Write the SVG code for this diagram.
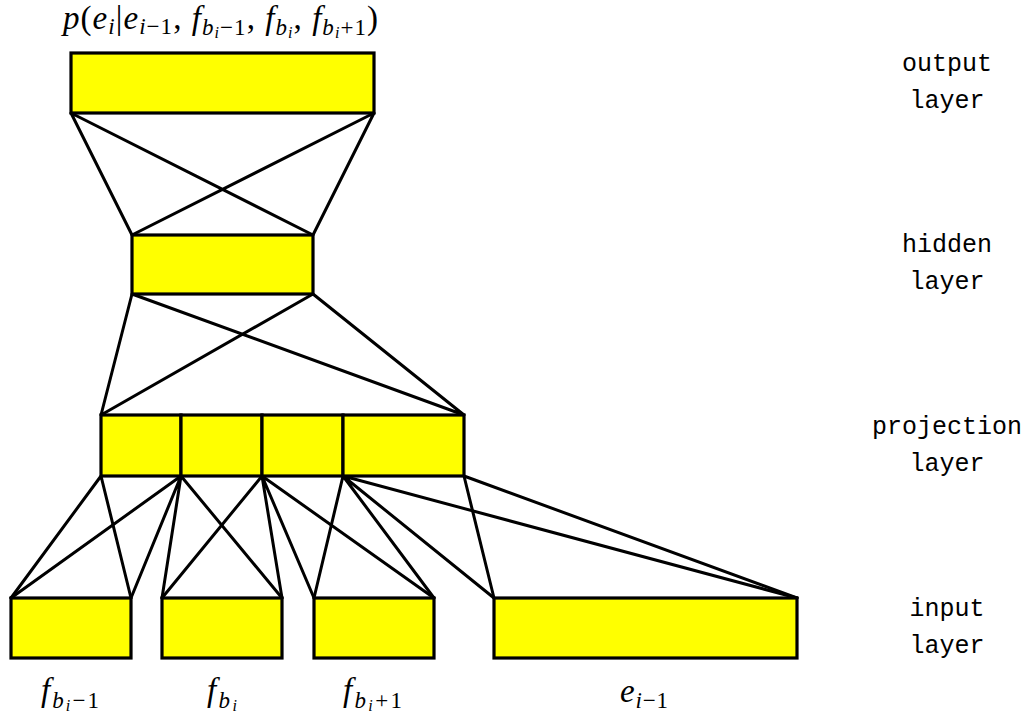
<svg xmlns="http://www.w3.org/2000/svg" width="1029" height="717" viewBox="0 0 1029 717">
<style>
.box{fill:#ffff00;stroke:#000;stroke-width:3.2}
.ln{stroke:#000;stroke-width:3;fill:none;stroke-linecap:round}
.lbl{font-family:"Liberation Mono","DejaVu Sans Mono",monospace;font-size:25px;fill:#000;text-anchor:middle}
.m{font-family:"Liberation Serif","Times New Roman",serif;font-size:33px;fill:#000}
.it{font-style:italic}
.s{font-size:23px}
.ss{font-size:16px}
</style>
<rect width="1029" height="717" fill="#fff"/>
<g id="connectors">
<path class="ln" d="M71,113L313,235M71,113L132,235M374,113L132,235M374,113L313,235"/>
<path class="ln" d="M132,294L101,415M132,294L464,415M313,294L101,415M313,294L464,415"/>
<path class="ln" d="M101,476L11,598M101,476L131,598"/>
<path class="ln" d="M181,476L11,598M181,476L131,598M181,476L162,598M181,476L282,598"/>
<path class="ln" d="M262,476L162,598M262,476L282,598M262,476L314,598M262,476L434,598"/>
<path class="ln" d="M343,476L314,598M343,476L434,598M343,476L494,598M343,476L797,598"/>
<path class="ln" d="M464,476L494,598M464,476L797,598"/>
</g>
<g id="output">
<rect class="box" x="71" y="53" width="303" height="60"/>
<text class="m" x="63" y="29" textLength="315" lengthAdjust="spacing"><tspan class="it">p</tspan>(<tspan class="it">e</tspan><tspan class="s it" dy="5">i</tspan><tspan dy="-5">|</tspan><tspan class="it">e</tspan><tspan class="s" dy="5"><tspan class="it">i</tspan>−1</tspan><tspan dy="-5">, </tspan><tspan class="it">f</tspan><tspan class="s it" dy="6">b</tspan><tspan class="ss it" dy="3">i</tspan><tspan class="s" dy="-3">−1</tspan><tspan dy="-6">, </tspan><tspan class="it">f</tspan><tspan class="s it" dy="6">b</tspan><tspan class="ss it" dy="3">i</tspan><tspan dy="-9">, </tspan><tspan class="it">f</tspan><tspan class="s it" dy="6">b</tspan><tspan class="ss it" dy="3">i</tspan><tspan class="s" dy="-3">+1</tspan><tspan dy="-6">)</tspan></text>
</g>
<g id="hidden">
<rect class="box" x="132" y="235" width="181" height="59"/>
</g>
<g id="projection">
<rect class="box" x="101" y="415" width="80" height="61"/>
<rect class="box" x="181" y="415" width="81" height="61"/>
<rect class="box" x="262" y="415" width="81" height="61"/>
<rect class="box" x="343" y="415" width="121" height="61"/>
</g>
<g id="input1">
<rect class="box" x="11" y="598" width="120" height="60"/>
<text class="m" x="41" y="701" textLength="58" lengthAdjust="spacing"><tspan class="it">f</tspan><tspan class="s it" dy="7">b</tspan><tspan class="ss it" dy="3">i</tspan><tspan class="s" dy="-3">−1</tspan></text>
</g>
<g id="input2">
<rect class="box" x="162" y="598" width="120" height="60"/>
<text class="m" x="207" y="701" textLength="30" lengthAdjust="spacing"><tspan class="it">f</tspan><tspan class="s it" dy="7">b</tspan><tspan class="ss it" dy="3">i</tspan></text>
</g>
<g id="input3">
<rect class="box" x="314" y="598" width="120" height="60"/>
<text class="m" x="343" y="701" textLength="59" lengthAdjust="spacing"><tspan class="it">f</tspan><tspan class="s it" dy="7">b</tspan><tspan class="ss it" dy="3">i</tspan><tspan class="s" dy="-3">+1</tspan></text>
</g>
<g id="input4">
<rect class="box" x="494" y="598" width="303" height="60"/>
<text class="m" x="620" y="702" textLength="48" lengthAdjust="spacing"><tspan class="it">e</tspan><tspan class="s" dy="6"><tspan class="it">i</tspan>−1</tspan></text>
</g>
<g id="layer-labels">
<text class="lbl" x="947" y="71">output</text>
<text class="lbl" x="947" y="108">layer</text>
<text class="lbl" x="947" y="252">hidden</text>
<text class="lbl" x="947" y="289">layer</text>
<text class="lbl" x="947" y="434">projection</text>
<text class="lbl" x="947" y="471">layer</text>
<text class="lbl" x="947" y="616">input</text>
<text class="lbl" x="947" y="653">layer</text>
</g>
</svg>
